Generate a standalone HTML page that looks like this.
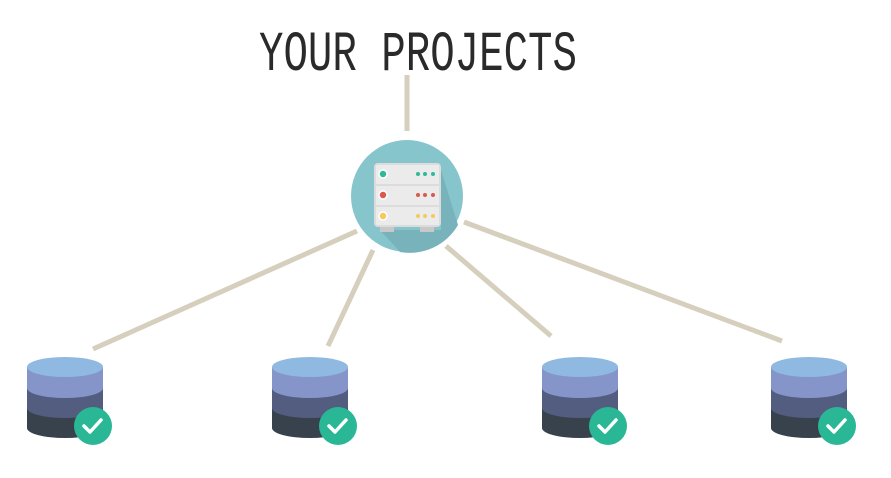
<!DOCTYPE html>
<html><head><style>body{margin:0;background:#fff;}svg{display:block}</style></head><body>
<svg width="891" height="478" viewBox="0 0 891 478" xmlns="http://www.w3.org/2000/svg">
<g transform="translate(0,70) scale(1,1.42)">
<text x="418" y="0" text-anchor="middle" font-family="Liberation Mono, monospace" font-size="40" fill="#2a2a2a" textLength="318" lengthAdjust="spacingAndGlyphs">YOUR PROJECTS</text>
</g>
<g stroke="#d6cfbd" stroke-width="5">
<line x1="407" y1="75" x2="407" y2="131"/>
<line x1="357" y1="231" x2="93" y2="349"/>
<line x1="373" y1="250" x2="328" y2="346"/>
<line x1="446" y1="246" x2="551" y2="336"/>
<line x1="464" y1="222" x2="782" y2="341"/>
</g>
<circle cx="407" cy="196" r="56" fill="#87c5cc"/>
<path d="M441 170 L458 225 A56 56 0 0 1 400 252 L380 230 L441 230Z" fill="#78b2bb"/>
<rect x="380" y="226" width="14" height="6" fill="#c8c8c8"/>
<rect x="420" y="226" width="14" height="6" fill="#c8c8c8"/>
<rect x="374" y="163" width="67" height="64" rx="4" fill="#dcdcdc"/>
<rect x="376" y="165" width="63" height="19" fill="#ebebeb"/>
<rect x="376" y="186" width="63" height="19" fill="#ebebeb"/>
<rect x="376" y="207" width="63" height="18" fill="#ebebeb"/>
<g stroke="#fff" stroke-width="1.5">
<circle cx="383" cy="174" r="4" fill="#2fb89a"/>
<circle cx="383" cy="195" r="4" fill="#d9594c"/>
<circle cx="383" cy="216" r="4" fill="#f4c95d"/>
</g>
<g fill="#2fb89a"><circle cx="418" cy="174" r="2"/><circle cx="425" cy="174" r="2"/><circle cx="433" cy="174" r="2"/></g>
<g fill="#d9594c"><circle cx="418" cy="195" r="2"/><circle cx="425" cy="195" r="2"/><circle cx="433" cy="195" r="2"/></g>
<g fill="#f4c95d"><circle cx="418" cy="216" r="2"/><circle cx="425" cy="216" r="2"/><circle cx="433" cy="216" r="2"/></g>
<defs>
<g id="db">
<path d="M-38 367 V428 A38 10 0 0 0 38 428 V367Z" fill="#37424d"/>
<path d="M-38 367 V408 A38 10 0 0 0 38 408 V367Z" fill="#525d80"/>
<path d="M-38 367 V388 A38 10 0 0 0 38 388 V367Z" fill="#8595c9"/>
<ellipse cx="0" cy="367" rx="38" ry="10" fill="#8fb9e0"/>
<circle cx="28" cy="426" r="19" fill="#2ab795"/>
<path d="M19 426 l6 6 l11 -12" stroke="#fff" stroke-width="3.5" fill="none" stroke-linecap="round" stroke-linejoin="round"/>
</g>
</defs>
<use href="#db" x="65"/>
<use href="#db" x="310"/>
<use href="#db" x="580"/>
<use href="#db" x="809"/>
</svg>
</body></html>
